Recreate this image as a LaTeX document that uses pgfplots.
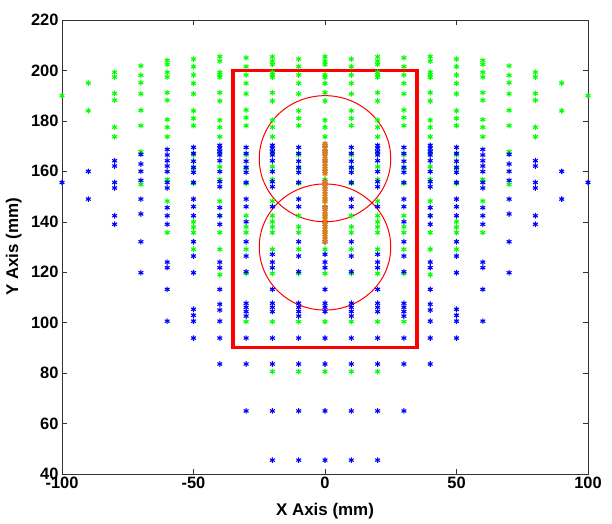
\documentclass[border=0pt]{standalone}
\usepackage{fontspec}
\setmainfont{Liberation Sans}
\usepackage{pgfplots}
\pgfplotsset{compat=1.18}
\definecolor{mgreen}{rgb}{0,1,0}
\definecolor{mblue}{rgb}{0,0,1}
\definecolor{morange}{RGB}{222,125,30}
\begin{document}
\begin{tikzpicture}
\begin{axis}[
  scale only axis, width=526bp, height=454bp,
  xmin=-100, xmax=100, ymin=40, ymax=220,
  xtick={-100,-50,0,50,100}, ytick={40,60,...,220},
  tick align=inside, major tick length=5bp,
  axis line style={draw=black!80, line width=0.5pt},
  every tick/.style={black!80, line width=0.5pt},
  /pgf/number format/assume math mode=true,
  tick label style={font=\bfseries\fontsize{16.5}{18}\selectfont},
  label style={font=\bfseries\fontsize{17}{20}\selectfont},
  xlabel={X Axis (mm)}, ylabel={Y Axis (mm)},
  xlabel style={at={(axis description cs:0.5,-0.0925)}, anchor=base},
  ylabel style={at={(axis description cs:-0.070,0.5)}, anchor=south},
  clip=false,
  every axis plot/.append style={only marks, mark=asterisk, mark size=2.8bp, line width=1.1pt},
]
\coordinate (ll) at (rel axis cs:0,0);
\coordinate (ur) at (rel axis cs:1,1);
% green series
\addplot[mgreen] coordinates {
(-100,190) (100,190)
(-90,195) (-90,184) (90,195) (90,184)
(-80,199.3) (-80,197.4) (-80,190.9) (-80,188.2) (-80,177.5) (-80,173.7)
(80,199.3) (80,197.4) (80,190.9) (80,188.2) (80,177.5) (80,173.7)
(-70,201.8) (-70,198.1) (-70,195.1) (-70,190.7) (-70,184.2) (-70,178.1) (-70,167.8) (-70,154.8)
(70,201.8) (70,198.1) (70,195.1) (70,190.7) (70,184.2) (70,178.1) (70,167.8) (70,154.8)
(-60,204) (-60,202.4) (-60,199.3) (-60,197.4) (-60,191.2) (-60,188.2) (-60,180.5) (-60,177.5) (-60,173.7) (-60,156.8) (-60,148.2) (-60,135.7)
(60,204) (60,202.4) (60,199.3) (60,197.4) (60,191.2) (60,188.2) (60,180.5) (60,177.5) (60,173.7) (60,156.8) (60,148.2) (60,135.7)
(-50,204.5) (-50,201.5) (-50,198.2) (-50,194.9) (-50,190.7) (-50,184) (-50,181) (-50,178.1) (-50,166.5) (-50,161.2) (-50,155.2) (-50,140) (-50,137.9) (-50,135.7) (-50,129.1)
(50,204.5) (50,201.5) (50,198.2) (50,194.9) (50,190.7) (50,184) (50,181) (50,178.1) (50,166.5) (50,161.2) (50,155.2) (50,140) (50,137.9) (50,135.7) (50,129.1)
(-40,205.5) (-40,203.7) (-40,199.3) (-40,198.2) (-40,197.3) (-40,191.2) (-40,187.9) (-40,180.3) (-40,177.5) (-40,173.7) (-40,167.3) (-40,161.8) (-40,156.8) (-40,148.2) (-40,142.4) (-40,135.7) (-40,129.1) (-40,119)
(40,205.5) (40,203.7) (40,199.3) (40,198.2) (40,197.3) (40,191.2) (40,187.9) (40,180.3) (40,177.5) (40,173.7) (40,167.3) (40,161.8) (40,156.8) (40,148.2) (40,142.4) (40,135.7) (40,129.1) (40,119)
(-30,205) (-30,201.5) (-30,198.2) (-30,194.9) (-30,190.7) (-30,184.3) (-30,181.3) (-30,178.1) (-30,166.5) (-30,161.2) (-30,155.2) (-30,142.4) (-30,138) (-30,135.7) (-30,129.1) (-30,119.5) (-30,100.4)
(30,205) (30,201.5) (30,198.2) (30,194.9) (30,190.7) (30,184.3) (30,181.3) (30,178.1) (30,166.5) (30,161.2) (30,155.2) (30,142.4) (30,138) (30,135.7) (30,129.1) (30,119.5) (30,100.4)
(-20,205.4) (-20,203.7) (-20,202.4) (-20,199.3) (-20,198.2) (-20,197.3) (-20,191.2) (-20,187.9) (-20,180.3) (-20,177.5) (-20,173.7) (-20,167.3) (-20,161.8) (-20,156.8) (-20,148.2) (-20,142.4) (-20,140) (-20,138) (-20,135.7) (-20,129.1) (-20,119.5) (-20,100.4) (-20,80.6)
(20,205.4) (20,203.7) (20,202.4) (20,199.3) (20,198.2) (20,197.3) (20,191.2) (20,187.9) (20,180.3) (20,177.5) (20,173.7) (20,167.3) (20,161.8) (20,156.8) (20,148.2) (20,142.4) (20,140) (20,138) (20,135.7) (20,129.1) (20,119.5) (20,100.4) (20,80.6)
(-10,204.5) (-10,201.5) (-10,198.2) (-10,194.9) (-10,190.7) (-10,184) (-10,181) (-10,178.1) (-10,166.5) (-10,161.2) (-10,155.2) (-10,142.4) (-10,138) (-10,135.7) (-10,129.1) (-10,119.5) (-10,100.4) (-10,80.6)
(10,204.5) (10,201.5) (10,198.2) (10,194.9) (10,190.7) (10,184) (10,181) (10,178.1) (10,166.5) (10,161.2) (10,155.2) (10,142.4) (10,138) (10,135.7) (10,129.1) (10,119.5) (10,100.4) (10,80.6)
(0,205.4) (0,203.7) (0,202.4) (0,198.2) (0,197.3) (0,194.9) (0,191.2) (0,187.9) (0,180.3) (0,177.5) (0,173.7) (0,167.3) (0,161.8) (0,156.8) (0,148.2) (0,142.4) (0,135.7) (0,129.1) (0,119.5) (0,100.4) (0,80.6)
};
% blue series
\addplot[mblue] coordinates {
(-100,155.6) (100,155.6)
(-90,160) (-90,149) (90,160) (90,149)
(-80,164.2) (-80,162.1) (-80,155.6) (-80,153.4) (-80,142.4) (-80,139)
(80,164.2) (80,162.1) (80,155.6) (80,153.4) (80,142.4) (80,139)
(-70,166.7) (-70,162.9) (-70,160) (-70,156.4) (-70,149) (-70,143.1) (-70,132.1) (-70,119.8)
(70,166.7) (70,162.9) (70,160) (70,156.4) (70,149) (70,143.1) (70,132.1) (70,119.8)
(-60,168.7) (-60,166.5) (-60,164.2) (-60,162.1) (-60,159.9) (-60,155.6) (-60,153.4) (-60,145.6) (-60,142.4) (-60,139) (-60,124) (-60,121.8) (-60,113.2) (-60,100.6)
(60,168.7) (60,166.5) (60,164.2) (60,162.1) (60,159.9) (60,155.6) (60,153.4) (60,145.6) (60,142.4) (60,139) (60,124) (60,121.8) (60,113.2) (60,100.6)
(-50,169.5) (-50,167.1) (-50,164) (-50,161.6) (-50,159.6) (-50,155.6) (-50,149) (-50,146) (-50,142.4) (-50,132.1) (-50,126.4) (-50,119.8) (-50,105.3) (-50,102.9) (-50,100.6) (-50,93.9)
(50,169.5) (50,167.1) (50,164) (50,161.6) (50,159.6) (50,155.6) (50,149) (50,146) (50,142.4) (50,132.1) (50,126.4) (50,119.8) (50,105.3) (50,102.9) (50,100.6) (50,93.9)
(-40,170.3) (-40,169.2) (-40,167.8) (-40,166.5) (-40,164.2) (-40,159.9) (-40,155.9) (-40,153.9) (-40,145.6) (-40,142.4) (-40,139) (-40,124) (-40,121.8) (-40,113.2) (-40,107.3) (-40,105) (-40,100.6) (-40,93.9) (-40,83.6)
(40,170.3) (40,169.2) (40,167.8) (40,166.5) (40,164.2) (40,159.9) (40,155.9) (40,153.9) (40,145.6) (40,142.4) (40,139) (40,124) (40,121.8) (40,113.2) (40,107.3) (40,105) (40,100.6) (40,93.9) (40,83.6)
(-30,169.5) (-30,167.1) (-30,164) (-30,161.6) (-30,159.6) (-30,155.6) (-30,149) (-30,146) (-30,140) (-30,132.1) (-30,126.4) (-30,120.2) (-30,107.7) (-30,106.1) (-30,104.4) (-30,102.6) (-30,93.9) (-30,83.6) (-30,65)
(30,169.5) (30,167.1) (30,164) (30,161.6) (30,159.6) (30,155.6) (30,149) (30,146) (30,140) (30,132.1) (30,126.4) (30,120.2) (30,107.7) (30,106.1) (30,104.4) (30,102.6) (30,93.9) (30,83.6) (30,65)
(-20,170.3) (-20,169.2) (-20,167.8) (-20,166.5) (-20,164.2) (-20,159.9) (-20,155.9) (-20,153.9) (-20,146) (-20,127.1) (-20,124) (-20,121.8) (-20,113.2) (-20,107.7) (-20,106.1) (-20,104.4) (-20,93.9) (-20,83.6) (-20,65) (-20,45.5)
(20,170.3) (20,169.2) (20,167.8) (20,166.5) (20,164.2) (20,159.9) (20,155.9) (20,153.9) (20,146) (20,127.1) (20,124) (20,121.8) (20,113.2) (20,107.7) (20,106.1) (20,104.4) (20,93.9) (20,83.6) (20,65) (20,45.5)
(-10,169.5) (-10,167.1) (-10,164) (-10,161.6) (-10,159.6) (-10,155.6) (-10,149) (-10,146) (-10,132.1) (-10,126.4) (-10,120.2) (-10,107.7) (-10,106.1) (-10,104.4) (-10,102.6) (-10,93.9) (-10,83.6) (-10,65) (-10,45.5)
(10,169.5) (10,167.1) (10,164) (10,161.6) (10,159.6) (10,155.6) (10,149) (10,146) (10,132.1) (10,126.4) (10,120.2) (10,107.7) (10,106.1) (10,104.4) (10,102.6) (10,93.9) (10,83.6) (10,65) (10,45.5)
(0,170.3) (0,167.8) (0,164.2) (0,159.9) (0,155.9) (0,153.9) (0,145.6) (0,139) (0,132.1) (0,127.1) (0,124) (0,121.8) (0,113.2) (0,107.7) (0,106.1) (0,104.4) (0,93.9) (0,83.6) (0,65) (0,45.5)
};
% orange series
\addplot[morange, mark size=2.8bp, line width=1.3pt] coordinates {
(0,132) (0,133) (0,134) (0,135) (0,136) (0,137) (0,138) (0,139) (0,140) (0,141) (0,142) (0,143) (0,144) (0,145) (0,146)
(0,148) (0,149) (0,150) (0,151) (0,152) (0,153) (0,154) (0,155) (0,156)
(0,159) (0,160) (0,161) (0,162) (0,163) (0,164) (0,165) (0,166) (0,167) (0,168) (0,169) (0,170) (0,171)
};
\draw[red, line width=3.2bp] (axis cs:-35,90) rectangle (axis cs:35,200);
\draw[red, line width=1bp] (axis cs:0,165) ellipse [x radius=25, y radius=25];
\draw[red, line width=1bp] (axis cs:0,130) ellipse [x radius=25, y radius=25];
\end{axis}
\pgfresetboundingbox
\path[use as bounding box] ([shift={(-62bp,-50bp)}]ll) rectangle ([shift={(24bp,20bp)}]ur);
\end{tikzpicture}
\end{document}
